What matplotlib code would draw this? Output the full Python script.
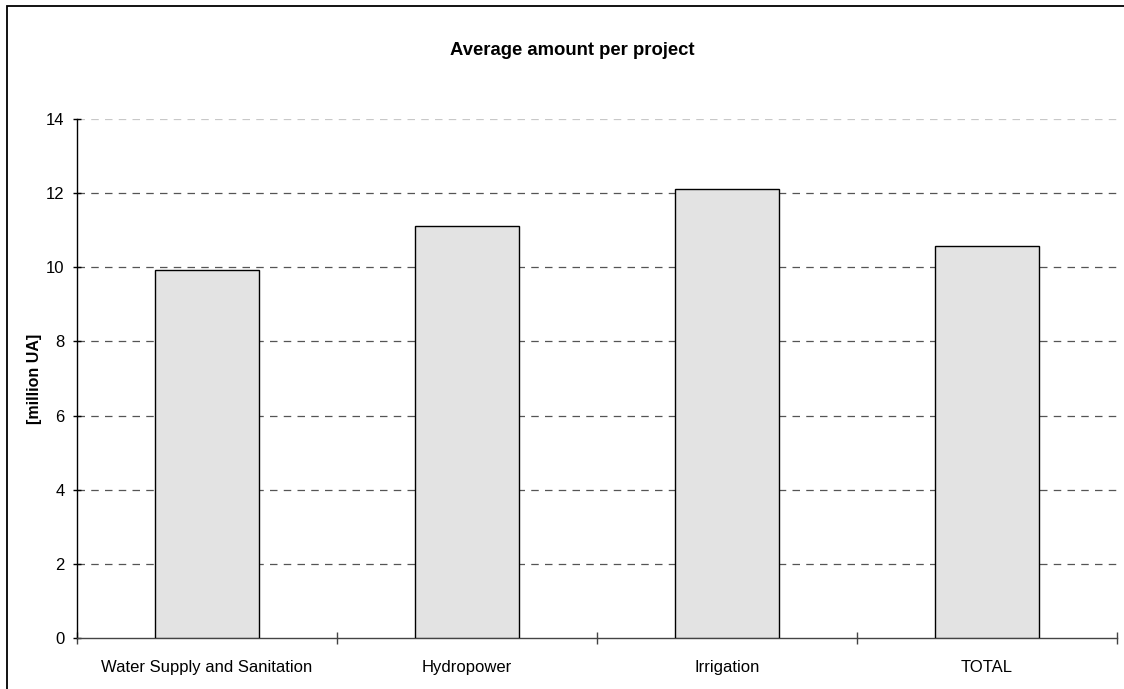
import matplotlib.pyplot as plt
from matplotlib.patches import Rectangle

categories = ["Water Supply and Sanitation", "Hydropower", "Irrigation", "TOTAL"]
amounts = [9.93, 11.12, 12.1, 10.58]
yticks = [0, 2, 4, 6, 8, 10, 12, 14]

plt.rcParams["font.family"] = ["Liberation Sans", "DejaVu Sans"]

fig = plt.figure(figsize=(11.24, 6.89), dpi=100)
ax = fig.add_axes([0.0685, 0.074, 0.925, 0.7533])

# outer chart frame (right/bottom edges fall outside the picture)
fig.patches.append(Rectangle((0.0062, -0.1), 1.1, 1.0913, transform=fig.transFigure,
                             fill=False, edgecolor="black", linewidth=1.3))

x = range(len(categories))
ax.bar(x, amounts, width=0.4, color="#e3e3e3", edgecolor="black", linewidth=1.0, zorder=3)

ax.set_xlim(-0.5, len(categories) - 0.5)
ax.set_ylim(0, 14)
ax.set_yticks(yticks)
ax.set_xticks(list(x))
ax.set_xticklabels(categories)
ax.set_xticks([i - 0.5 for i in range(len(categories) + 1)], minor=True)

for y in yticks[1:]:
    col = "#c8c8c8" if y == 14 else "#555555"
    ax.axhline(y, color=col, linestyle=(0, (6, 5)), linewidth=0.9, zorder=1)

for s in ["top", "right"]:
    ax.spines[s].set_visible(False)
ax.spines["left"].set_linewidth(1.0)
ax.spines["bottom"].set_linewidth(1.0)
ax.spines["bottom"].set_color("#444444")

ax.tick_params(axis="x", which="major", length=0, pad=16, labelsize=12)
ax.tick_params(axis="x", which="minor", length=8, width=1.0, direction="inout", color="#444444")
ax.tick_params(axis="y", length=6, width=1.0, direction="inout", labelsize=12, pad=6)

ax.set_ylabel("[million UA]", fontweight="bold", fontsize=11.5, labelpad=3)
fig.text(0.509, 0.927, "Average amount per project", ha="center", va="center",
         fontweight="bold", fontsize=13.3)

fig.savefig("out.png", dpi=100)
